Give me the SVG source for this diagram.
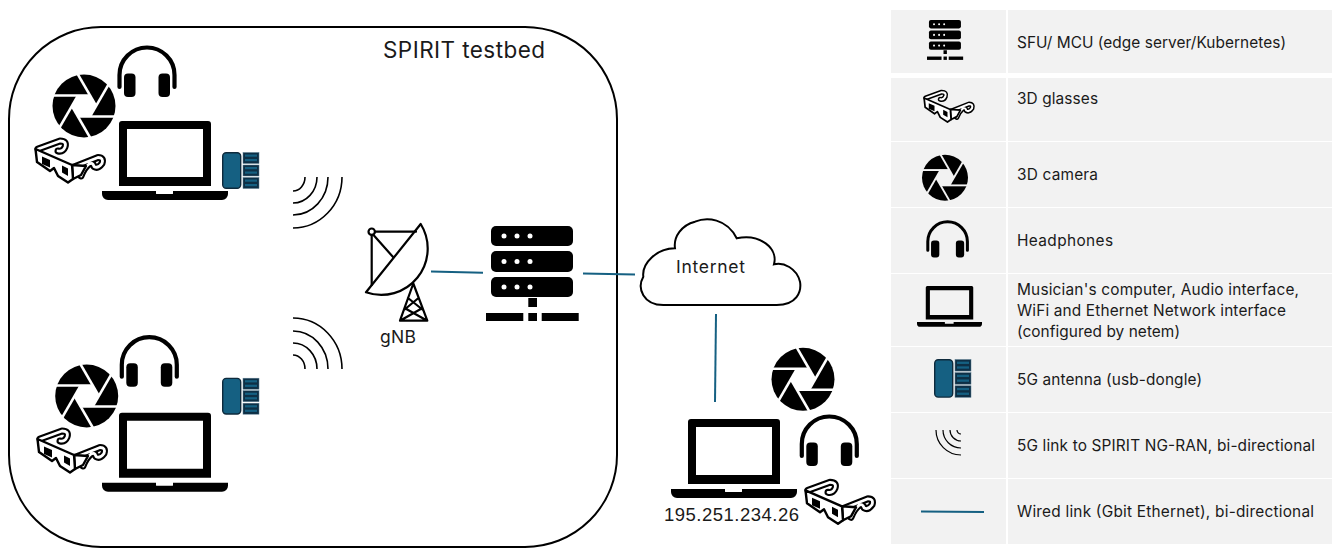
<svg xmlns="http://www.w3.org/2000/svg" xmlns:xlink="http://www.w3.org/1999/xlink" width="1342" height="560" viewBox="0 0 1342 560">
<style>
.t{font-family:Inter,"Noto Sans",sans-serif;font-size:15.400px;fill:#1a1a1a}
.big{font-family:Inter,"Noto Sans",sans-serif;fill:#1a1a1a}
.ip{font-family:"Liberation Sans",Arial,sans-serif;font-size:18.500px;fill:#1a1a1a}
.panel{fill:#f2f2f2}
.wire{fill:none;stroke:#156082;stroke-width:2}
.arc{fill:none;stroke:#000;stroke-width:1.600}
.gl{fill:#fff;stroke:#000;stroke-width:2.400;stroke-linejoin:round}
.tb{fill:none;stroke:#000;stroke-width:7;stroke-linecap:round;stroke-linejoin:round}
.tw{fill:none;stroke:#fff;stroke-width:2.800;stroke-linecap:round;stroke-linejoin:round}
.ln{fill:none;stroke:#000;stroke-width:2.200;stroke-linejoin:round;stroke-linecap:round}
</style>
<defs>
<g id="laptop">
<path fill-rule="evenodd" d="M20,0H106a3,3 0 0 1 3,3V65H17V3a3,3 0 0 1 3,-3ZM25,8V56H101V8Z"/>
<path d="M0,70H54V72.500Q54,73 55,73H70Q71,73 71,72.500V70H126V73a6,6 0 0 1 -6,6H6a6,6 0 0 1 -6,-6Z"/>
</g>
<g id="headphones">
<path d="M2.500,42V30A27.500,27.500 0 0 1 57.500,30V42" fill="none" stroke="#000" stroke-width="4.200" stroke-linecap="round"/>
<rect x="7" y="28.500" width="11.500" height="23.500" rx="4"/>
<rect x="41.500" y="28.500" width="11.500" height="23.500" rx="4"/>
</g>
<mask id="apMask" maskUnits="userSpaceOnUse" x="-33" y="-33" width="66" height="66">
<rect x="-33" y="-33" width="66" height="66" fill="#fff"/>
<g stroke="#000" stroke-width="2.600">
<path d="M-33,-10.500H6"/>
<path d="M-33,-10.500H6" transform="rotate(60)"/>
<path d="M-33,-10.500H6" transform="rotate(120)"/>
<path d="M-33,-10.500H6" transform="rotate(180)"/>
<path d="M-33,-10.500H6" transform="rotate(240)"/>
<path d="M-33,-10.500H6" transform="rotate(300)"/>
</g>
<path d="M-6,-10.500H6L12,0L6,10.500H-6L-12,0Z" fill="#000"/>
</mask>
<circle id="camera" r="31.500" mask="url(#apMask)"/>
<g id="glasses">
<path class="tb" d="M4,11L26,3Q33,3 31,9Q29,14 24,13"/>
<path class="tw" d="M4,11L26,3Q33,3 31,9Q29,14 24,13"/>
<path class="tb" d="M40,29L64,19.500Q70,19.500 68,25.500Q64,31 60,28.500Q59,24 55,26Q50,30 47,38"/>
<path class="tw" d="M40,29L64,19.500Q70,19.500 68,25.500Q64,31 60,28.500Q59,24 55,26Q50,30 47,38"/>
<path class="gl" d="M38,27L39,41L47,37L52,28Z"/>
<path class="gl" d="M1.500,11L38,27L39,41L34,44.500L24,38L20,30L16,33L3,24Z"/>
<path d="M8,18.500L16,22V29.500L8,26Z"/>
<path d="M28,27.500L34,30.500V38L28,34.500Z"/>
</g>
<g id="dongle">
<rect x="0.700" y="0.700" width="18" height="35.600" rx="3.500" fill="#156082" stroke="#0e2a3c" stroke-width="1.400"/>
<g fill="#0e2f45" stroke="#5d7f92" stroke-width="0.500">
<rect x="21" y="0.500" width="16" height="11"/><rect x="21" y="13" width="16" height="11"/><rect x="21" y="25.500" width="16" height="11"/>
</g>
<g fill="#156082">
<rect x="23" y="2.500" width="12" height="2.200"/><rect x="23" y="7" width="12" height="2.200"/>
<rect x="23" y="15" width="12" height="2.200"/><rect x="23" y="19.500" width="12" height="2.200"/>
<rect x="23" y="27.500" width="12" height="2.200"/><rect x="23" y="32" width="12" height="2.200"/>
</g>
</g>
<g id="server">
<rect x="5" y="0" width="82" height="20" rx="5"/>
<rect x="5" y="25" width="82" height="21" rx="5"/>
<rect x="5" y="51" width="82" height="20" rx="5"/>
<g fill="#fff"><circle cx="18" cy="10" r="2.500"/><circle cx="31" cy="10" r="2.500"/><circle cx="44" cy="10" r="2.500"/>
<circle cx="18" cy="35.500" r="2.500"/><circle cx="31" cy="35.500" r="2.500"/><circle cx="44" cy="35.500" r="2.500"/>
<circle cx="18" cy="61" r="2.500"/><circle cx="31" cy="61" r="2.500"/><circle cx="44" cy="61" r="2.500"/></g>
<rect x="42.300" y="72" width="8.700" height="9"/>
<rect x="0" y="87" width="37.300" height="8"/><rect x="42.300" y="87" width="8.700" height="8"/><rect x="55.700" y="87" width="37" height="8"/>
</g>
<g id="waves">
<path class="arc" d="M49,0A49,51 0 0 1 0,51"/>
<path class="arc" d="M35,0A35,38 0 0 1 0,38"/>
<path class="arc" d="M24,0A24,26 0 0 1 0,26"/>
<path class="arc" d="M12,0A12,14 0 0 1 0,14"/>
</g>
</defs>

<g id="legend">
<rect class="panel" x="891" y="10" width="115" height="63"/><rect class="panel" x="1008" y="10" width="324" height="63"/>
<rect class="panel" x="891" y="78" width="115" height="63"/><rect class="panel" x="1008" y="78" width="324" height="63"/>
<rect class="panel" x="891" y="142" width="115" height="65"/><rect class="panel" x="1008" y="142" width="324" height="65"/>
<rect class="panel" x="891" y="208" width="115" height="65"/><rect class="panel" x="1008" y="208" width="324" height="65"/>
<rect class="panel" x="891" y="274" width="115" height="72"/><rect class="panel" x="1008" y="274" width="324" height="72"/>
<rect class="panel" x="891" y="347" width="115" height="65"/><rect class="panel" x="1008" y="347" width="324" height="65"/>
<rect class="panel" x="891" y="413" width="115" height="65"/><rect class="panel" x="1008" y="413" width="324" height="65"/>
<rect class="panel" x="891" y="479" width="115" height="65"/><rect class="panel" x="1008" y="479" width="324" height="65"/>
<use href="#server" transform="translate(927,20) scale(0.39,0.42)"/>
<use href="#glasses" transform="translate(923,90) scale(0.72)"/>
<use href="#camera" transform="translate(945,177.700) scale(0.73)"/>
<use href="#headphones" transform="translate(926,220) scale(0.72)"/>
<use href="#laptop" transform="translate(917,286) scale(0.516)"/>
<use href="#dongle" transform="translate(934,359) scale(1,1.050)"/>
<g transform="translate(961,430) scale(-1,1)">
<path class="arc" style="stroke-width:1.200" d="M25,0A25,25 0 0 1 0,25"/>
<path class="arc" style="stroke-width:1.200" d="M18,0A18,18 0 0 1 0,18"/>
<path class="arc" style="stroke-width:1.200" d="M11,0A11,11 0 0 1 0,11"/>
<path class="arc" style="stroke-width:1.200" d="M4,0A4,4 0 0 1 0,4"/>
</g>
<path class="wire" d="M921,511.500L984,512"/>
<text class="t" x="1017" y="48" textLength="269">SFU/ MCU (edge server/Kubernetes)</text>
<text class="t" x="1017" y="104" textLength="81">3D glasses</text>
<text class="t" x="1017" y="180" textLength="81">3D camera</text>
<text class="t" x="1017" y="246" textLength="96">Headphones</text>
<text class="t" x="1017" y="295" textLength="282">Musician's computer, Audio interface,</text>
<text class="t" x="1017" y="316" textLength="269">WiFi and Ethernet Network interface</text>
<text class="t" x="1017" y="337" textLength="163">(configured by netem)</text>
<text class="t" x="1017" y="385" textLength="185">5G antenna (usb-dongle)</text>
<text class="t" x="1017" y="451" textLength="298">5G link to SPIRIT NG-RAN, bi-directional</text>
<text class="t" x="1017" y="517" textLength="297">Wired link (Gbit Ethernet), bi-directional</text>
</g>

<g id="testbed">
<rect x="9" y="27" width="608" height="520" rx="92" ry="92" fill="none" stroke="#000" stroke-width="2"/>
<text class="big" x="383" y="58" font-size="22.500" textLength="162">SPIRIT testbed</text>
</g>

<g id="connectors">
<path class="wire" d="M431,271.500L483,272.800"/>
<path class="wire" d="M583,273.500L635,274.500"/>
<path class="wire" d="M716,314L715,402"/>
<use href="#waves" transform="translate(293,177)"/>
<use href="#waves" transform="translate(293,369) scale(1,-1)"/>
</g>

<g id="musician-1">
<use href="#headphones" x="117" y="45"/>
<use href="#camera" x="84" y="106"/>
<use href="#laptop" x="102" y="121"/>
<use href="#glasses" x="34" y="138"/>
<use href="#dongle" x="222" y="152"/>
</g>
<g id="musician-2">
<use href="#headphones" x="119.300" y="334.700"/>
<use href="#camera" x="86.700" y="396"/>
<use href="#laptop" x="102" y="412.700"/>
<use href="#glasses" x="36" y="428"/>
<use href="#dongle" x="222" y="377.700"/>
</g>
<g id="musician-3">
<use href="#camera" x="803" y="379.300"/>
<use href="#headphones" x="799.300" y="414"/>
<use href="#laptop" x="671" y="419"/>
<use href="#glasses" x="804" y="479.300"/>
<text class="ip" x="664" y="521" textLength="135">195.251.234.26</text>
</g>
<g id="gnb">
<path class="ln" d="M420.700,224L366,292.300A46.400,46.400 0 0 0 420.700,224Z" fill="#fff"/>
<circle class="ln" cx="371.700" cy="231.700" r="3.200"/>
<path class="ln" d="M375,231.700H416M371.700,235V285M373.500,235L393.300,257.300"/>
<path class="ln" d="M413.300,283.500L400,320.700H427.300L413.300,283.500M404.500,308L427.300,320.700M422.500,308L400,320.700M408,298L423,310M418.500,298L404,310"/>
<text class="big" x="380" y="343" font-size="17.500" textLength="36">gNB</text>
</g>
<g id="edge-server">
<use href="#server" x="486" y="226"/>
</g>
<g id="internet">
<path d="M663.300,305H776.700C796.700,305 801.700,291.700 800,281.700C796.700,268.300 783.300,261.700 774,264.300C778.300,248.300 760,233.300 736.700,238.300C726.700,218.300 706.700,216.700 695,221.700C681.700,225 673.300,236.700 675,248.300C656.700,248.300 641.700,263.300 643.300,276.700C636.700,288.300 643.300,305 663.300,305Z" fill="#fff" stroke="#000" stroke-width="2"/>
<text class="big" x="676" y="273" font-size="17.500" textLength="69">Internet</text>
</g>
</svg>
